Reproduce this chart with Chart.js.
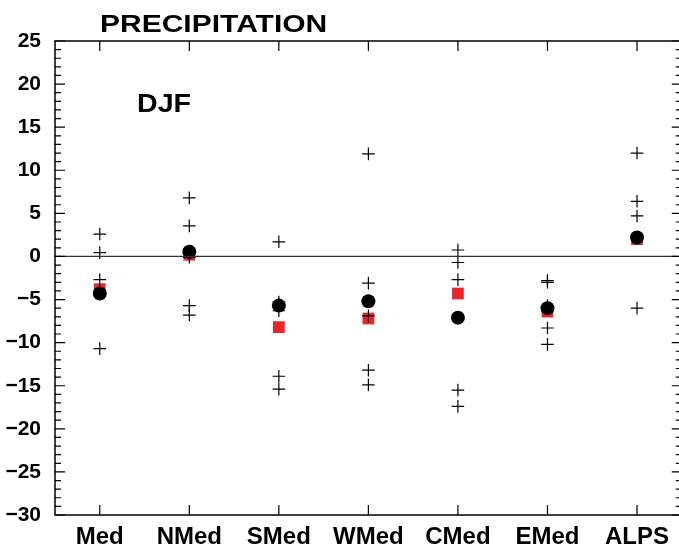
<!DOCTYPE html>
<html>
<head>
<meta charset="utf-8">
<script src="https://cdn.jsdelivr.net/npm/chart.js@4/dist/chart.umd.min.js"></script>
<style>
html,body{margin:0;padding:0;overflow:hidden;background:#fff;width:679px;height:550px;}
canvas{display:block;}
</style>
</head>
<body>
<canvas id="c" width="679" height="550"></canvas>
<script>
const categories = ['Med','NMed','SMed','WMed','CMed','EMed','ALPS'];
const ensembleMean = [-4.3, 0.55, -5.7, -5.2, -7.1, -6.0, 2.2];
const observed = [-3.8, 0.2, -8.2, -7.2, -4.3, -6.4, 2.0];
const membersMed  = [2.6, 0.45, -2.7, -10.7];
const membersNMed = [6.8, 3.55, -0.1, -5.7, -6.8];
const membersSMed = [1.7, -5.3, -6.3, -13.9, -15.4];
const membersWMed = [11.9, -3.1, -6.9, -13.2, -14.9];
const membersCMed = [0.75, -0.7, -2.7, -15.5, -17.4];
const membersEMed = [-2.8, -3.0, -5.7, -8.3, -10.2];
const membersALPS = [12.0, 6.4, 4.7, -6.0];
const yTicks = [-30,-25,-20,-15,-10,-5,0,5,10,15,20,25];
const titleText = 'PRECIPITATION';
const seasonText = 'DJF';

// x positions: category i sits at i+1; the axis runs from 0.5 and is cut at the right edge of the page
const X_MIN = 0.5, X_MAX = 7.469, X_FRAME_RIGHT = 7.5;

const memberLists = [membersMed, membersNMed, membersSMed, membersWMed, membersCMed, membersEMed, membersALPS];
const crossPts = [];
memberLists.forEach((arr, i) => arr.forEach(v => crossPts.push({x: i + 1, y: v})));
const meanPts = ensembleMean.map((v, i) => ({x: i + 1, y: v}));
const obsPts = observed.map((v, i) => ({x: i + 1, y: v}));

const FONT = '"Liberation Sans", Arial, Helvetica, sans-serif';
const fmt = v => (v < 0 ? '\u2212' + Math.abs(v) : String(v));

function stretchedText(ctx, text, x, y, font, sx) {
  ctx.save();
  ctx.translate(x, y);
  ctx.scale(sx, 1);
  ctx.font = font;
  ctx.fillText(text, 0, 0);
  ctx.restore();
}

const framePlugin = {
  id: 'frame',
  afterDatasetsDraw(chart) {
    const ctx = chart.ctx;
    const a = chart.chartArea;
    const ys = chart.scales.y, xs = chart.scales.x;
    const right = xs.getPixelForValue(X_FRAME_RIGHT);
    ctx.save();
    ctx.strokeStyle = '#333';
    ctx.lineWidth = 1.3;
    const y0 = ys.getPixelForValue(0);
    ctx.beginPath(); ctx.moveTo(a.left, y0); ctx.lineTo(right, y0); ctx.stroke();
    ctx.strokeStyle = '#000';
    ctx.lineWidth = 1.5;
    ctx.strokeRect(a.left, a.top, right - a.left, a.bottom - a.top);
    ctx.lineWidth = 1.2;
    ctx.beginPath();
    for (let v = ys.min; v <= ys.max; v++) {
      const p = ys.getPixelForValue(v);
      const len = (v % 5 === 0) ? 10 : 6;
      ctx.moveTo(a.left, p); ctx.lineTo(a.left + len, p);
      ctx.moveTo(right, p); ctx.lineTo(right - len, p);
    }
    categories.forEach((c, i) => {
      const p = xs.getPixelForValue(i + 1);
      ctx.moveTo(p, a.bottom); ctx.lineTo(p, a.bottom - 10);
      ctx.moveTo(p, a.top); ctx.lineTo(p, a.top + 10);
    });
    ctx.stroke();
    ctx.fillStyle = '#000';
    ctx.textBaseline = 'alphabetic';
    ctx.textAlign = 'left';
    stretchedText(ctx, titleText, 100, 32, 'bold 24px ' + FONT, 1.25);
    stretchedText(ctx, seasonText, 137, 112, 'bold 26px ' + FONT, 1.1);
    ctx.restore();
  }
};

new Chart(document.getElementById('c'), {
  type: 'scatter',
  data: {
    datasets: [
      {label: 'members', data: crossPts, pointStyle: 'cross', pointRadius: 6.3, pointHoverRadius: 6.3,
       borderColor: '#000', backgroundColor: '#000', pointBorderWidth: 1.2},
      {label: 'mean', data: meanPts, pointStyle: 'circle', pointRadius: 7, pointHoverRadius: 7,
       borderColor: '#000', backgroundColor: '#000', pointBorderWidth: 0},
      {label: 'obs', data: obsPts, pointStyle: 'rect', pointRadius: 8.3, pointHoverRadius: 8.3,
       borderColor: '#e8262a', backgroundColor: '#e8262a', pointBorderWidth: 0}
    ]
  },
  options: {
    responsive: false,
    animation: false,
    events: [],
    clip: false,
    layout: {autoPadding: false, padding: {top: 41, right: 0, left: 0, bottom: 0}},
    plugins: {legend: {display: false}, tooltip: {enabled: false}, title: {display: false}},
    scales: {
      x: {
        type: 'linear',
        min: X_MIN, max: X_MAX,
        afterBuildTicks(s) { s.ticks = categories.map((c, i) => ({value: i + 1})); },
        grid: {display: false, drawTicks: false},
        border: {display: false},
        ticks: {color: '#000', font: {family: FONT, size: 24, weight: 'bold'}, padding: 8, maxRotation: 0, autoSkip: false,
                callback: v => categories[Math.round(v) - 1]},
        afterFit(s) { s.height = 35; s.paddingLeft = 0; s.paddingRight = 0; }
      },
      y: {
        type: 'linear',
        min: -30, max: 25,
        afterBuildTicks(s) { s.ticks = yTicks.map(v => ({value: v})); },
        grid: {display: false, drawTicks: false},
        border: {display: false},
        ticks: {color: '#000', font: {family: FONT, size: 21, weight: 'bold'}, padding: 14, callback: v => fmt(v)},
        afterFit(s) { s.width = 55; s.paddingTop = 0; s.paddingBottom = 0; }
      }
    }
  },
  plugins: [framePlugin]
});
</script>
</body>
</html>
